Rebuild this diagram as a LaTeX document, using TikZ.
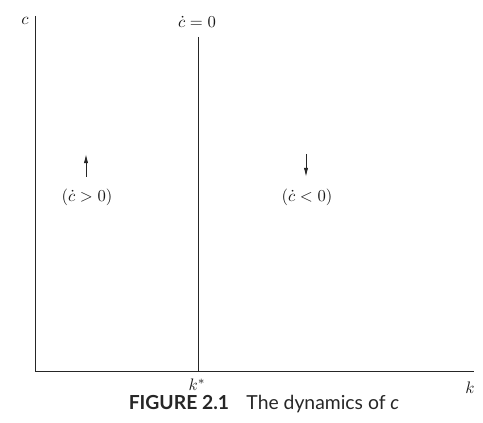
\documentclass[tikz,border=0pt]{standalone}
\usepackage{fontspec}
\newfontfamily\capfont{Lato}
\usetikzlibrary{arrows.meta}
\begin{document}
\begin{tikzpicture}[x=0.6pt,y=-0.6pt,
  axis/.style={line width=0.6pt,draw=black!85},
  flow/.style={line width=0.6pt,draw=black!85,-{Latex[length=5.5pt,width=2.6pt]}},
  lbl/.style={inner sep=0pt,text=black!90}]
\useasboundingbox (0,0) rectangle (483,423);
\coordinate (ytop) at (35,16);
\coordinate (O) at (35,372);
\coordinate (xend) at (474,372);
\coordinate (vtop) at (198,37);
\coordinate (vbot) at (198,372);
\draw[axis] (ytop) -- (O) -- (xend);
\draw[axis] (vtop) -- (vbot);
\node[lbl] (c) at (25,21) {$c$};
\node[lbl] (cdot0) at (197,22) {$\dot c = 0$};
\node[lbl] (kstar) at (197,385) {$k^{*}$};
\node[lbl] (k) at (470,388) {$k$};
\node[lbl] (pos) at (87,197) {$(\dot c > 0)$};
\node[lbl] (neg) at (307,197) {$(\dot c < 0)$};
\coordinate (ua1) at (86,177);
\coordinate (ua2) at (86,154);
\coordinate (da1) at (306,154);
\coordinate (da2) at (306,177);
\draw[flow] (ua1) -- (ua2);
\draw[flow] (da1) -- (da2);
\node[lbl,text=black!85] (cap) at (264,404) {\capfont\fontsize{11.6}{13}\selectfont\textbf{FIGURE 2.1}\hspace{0.9em}The dynamics of \textit{c}};
\end{tikzpicture}
\end{document}
